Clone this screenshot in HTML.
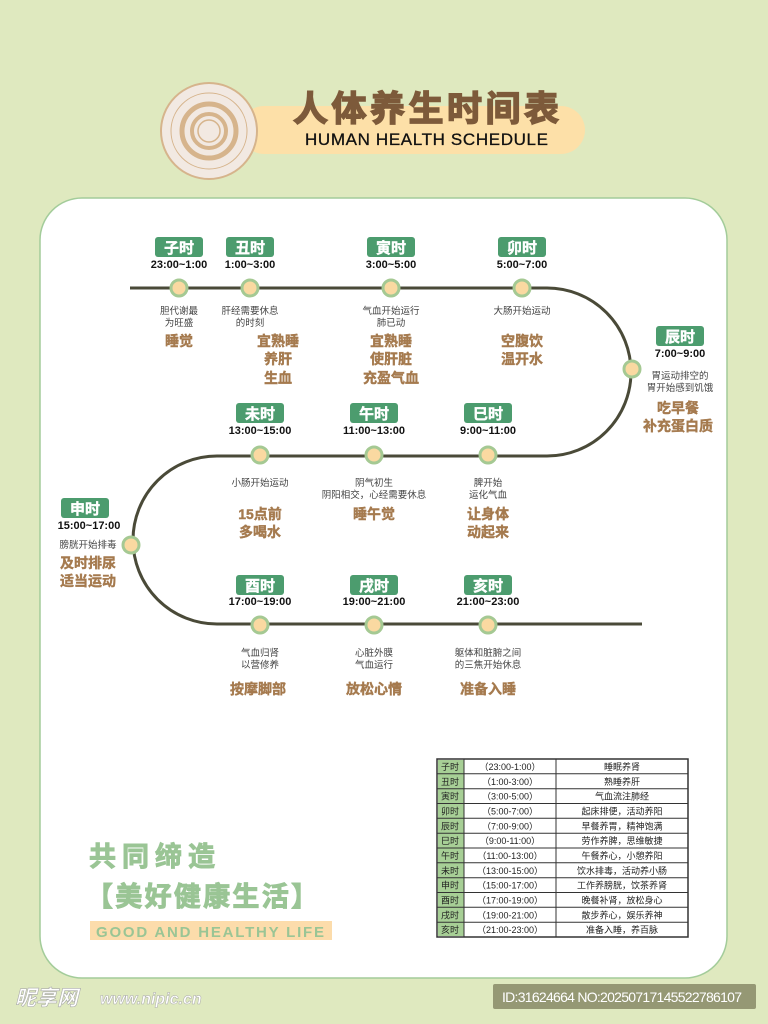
<!DOCTYPE html>
<html><head><meta charset="utf-8"><style>
html,body{margin:0;padding:0;width:768px;height:1024px;overflow:hidden;background:#dfe9bf}
svg text{font-family:"Liberation Sans","Noto Sans CJK SC",sans-serif}
.b{fill:#fff;font-weight:bold;font-size:15px;stroke:#fff;stroke-width:0.4}
.t{fill:#111;font-weight:bold;font-size:11px}
.d{fill:#444;font-size:9.5px}
.m{fill:#a57a4e;font-weight:bold;font-size:14px;stroke:#a57a4e;stroke-width:0.4}
.tb{font-size:9px;fill:#222}
</style></head><body>
<svg width="768" height="1024" viewBox="0 0 768 1024" xmlns="http://www.w3.org/2000/svg">
<rect x="0" y="0" width="768" height="1024" fill="#dfe9bf"/>
<rect x="240" y="106" width="345" height="48" rx="24" fill="#fde0a8"/>
<circle cx="209" cy="131" r="48" fill="#f2e9e2" stroke="#d6b48c" stroke-width="2"/>
<circle cx="209" cy="131" r="38" fill="none" stroke="#d6b48c" stroke-width="1"/>
<circle cx="209" cy="131" r="27" fill="none" stroke="#d6b48c" stroke-width="5"/>
<circle cx="209" cy="131" r="17" fill="none" stroke="#d6b48c" stroke-width="4"/>
<circle cx="209" cy="131" r="11" fill="none" stroke="#d6b48c" stroke-width="1.5"/>
<text x="293" y="121" font-size="35" font-weight="bold" fill="#7d5a3a" stroke="#7d5a3a" stroke-width="1.5" textLength="266">人体养生时间表</text>
<text x="305" y="145" font-size="17" fill="#111" stroke="#111" stroke-width="0.3" textLength="243">HUMAN HEALTH SCHEDULE</text>
<rect x="40" y="198" width="687" height="780" rx="42" fill="#fff" stroke="#a3cc9a" stroke-width="1.5"/>
<path d="M130 288 H547 A84 84 0 0 1 547 456 H217 A84 84 0 0 0 217 624 H642" fill="none" stroke="#4a4a38" stroke-width="3"/>
<g fill="#fad9a1" stroke="#a5c993" stroke-width="3">
<circle cx="179" cy="288" r="8"/><circle cx="250" cy="288" r="8"/><circle cx="391" cy="288" r="8"/><circle cx="522" cy="288" r="8"/>
<circle cx="632" cy="369" r="8"/>
<circle cx="260" cy="455" r="8"/><circle cx="374" cy="455" r="8"/><circle cx="488" cy="455" r="8"/>
<circle cx="131" cy="545" r="8"/>
<circle cx="260" cy="625" r="8"/><circle cx="374" cy="625" r="8"/><circle cx="488" cy="625" r="8"/>
</g>
<g fill="#4c9c6e">
<rect x="155" y="237" width="48" height="20" rx="3"/><rect x="226" y="237" width="48" height="20" rx="3"/><rect x="367" y="237" width="48" height="20" rx="3"/><rect x="498" y="237" width="48" height="20" rx="3"/>
<rect x="656" y="326" width="48" height="20" rx="3"/>
<rect x="236" y="403" width="48" height="20" rx="3"/><rect x="350" y="403" width="48" height="20" rx="3"/><rect x="464" y="403" width="48" height="20" rx="3"/>
<rect x="61" y="498" width="48" height="20" rx="3"/>
<rect x="236" y="575" width="48" height="20" rx="3"/><rect x="350" y="575" width="48" height="20" rx="3"/><rect x="464" y="575" width="48" height="20" rx="3"/>
</g>
<g text-anchor="middle">
<text class="b" x="179" y="253">子时</text><text class="b" x="250" y="253">丑时</text><text class="b" x="391" y="253">寅时</text><text class="b" x="522" y="253">卯时</text>
<text class="b" x="680" y="342">辰时</text>
<text class="b" x="260" y="419">未时</text><text class="b" x="374" y="419">午时</text><text class="b" x="488" y="419">巳时</text>
<text class="b" x="85" y="514">申时</text>
<text class="b" x="260" y="591">酉时</text><text class="b" x="374" y="591">戌时</text><text class="b" x="488" y="591">亥时</text>

<text class="t" x="179" y="268">23:00~1:00</text><text class="t" x="250" y="268">1:00~3:00</text><text class="t" x="391" y="268">3:00~5:00</text><text class="t" x="522" y="268">5:00~7:00</text>
<text class="t" x="680" y="357">7:00~9:00</text>
<text class="t" x="260" y="434">13:00~15:00</text><text class="t" x="374" y="434">11:00~13:00</text><text class="t" x="488" y="434">9:00~11:00</text>
<text class="t" x="89" y="529">15:00~17:00</text>
<text class="t" x="260" y="605">17:00~19:00</text><text class="t" x="374" y="605">19:00~21:00</text><text class="t" x="488" y="605">21:00~23:00</text>

<text class="d" x="179" y="314">胆代谢最</text><text class="d" x="179" y="326">为旺盛</text>
<text class="d" x="250" y="314">肝经需要休息</text><text class="d" x="250" y="326">的时刻</text>
<text class="d" x="391" y="314">气血开始运行</text><text class="d" x="391" y="326">肺已动</text>
<text class="d" x="522" y="314">大肠开始运动</text>
<text class="d" x="680" y="379">胃运动排空的</text><text class="d" x="680" y="391">胃开始感到饥饿</text>
<text class="d" x="260" y="486">小肠开始运动</text>
<text class="d" x="374" y="486">阴气初生</text><text class="d" x="374" y="498">阴阳相交，心经需要休息</text>
<text class="d" x="488" y="486">脾开始</text><text class="d" x="488" y="498">运化气血</text>
<text class="d" x="88" y="548">膀胱开始排毒</text>
<text class="d" x="260" y="656">气血归肾</text><text class="d" x="260" y="668">以营修养</text>
<text class="d" x="374" y="656">心脏外膜</text><text class="d" x="374" y="668">气血运行</text>
<text class="d" x="488" y="656">躯体和脏腑之间</text><text class="d" x="488" y="668">的三焦开始休息</text>

<text class="m" x="179" y="346">睡觉</text>
<text class="m" x="278" y="346">宜熟睡</text><text class="m" x="278" y="364">养肝</text><text class="m" x="278" y="383">生血</text>
<text class="m" x="391" y="346">宜熟睡</text><text class="m" x="391" y="364">使肝脏</text><text class="m" x="391" y="383">充盈气血</text>
<text class="m" x="522" y="346">空腹饮</text><text class="m" x="522" y="364">温开水</text>
<text class="m" x="678" y="413">吃早餐</text><text class="m" x="678" y="431">补充蛋白质</text>
<text class="m" x="260" y="519">15点前</text><text class="m" x="260" y="537">多喝水</text>
<text class="m" x="374" y="519">睡午觉</text>
<text class="m" x="488" y="519">让身体</text><text class="m" x="488" y="537">动起来</text>
<text class="m" x="88" y="568">及时排尿</text><text class="m" x="88" y="586">适当运动</text>
<text class="m" x="258" y="694">按摩脚部</text><text class="m" x="374" y="694">放松心情</text><text class="m" x="488" y="694">准备入睡</text>
</g>
<text x="89" y="866" font-size="27" font-weight="bold" fill="#9ac595" stroke="#9ac595" stroke-width="1" textLength="126">共同缔造</text>
<text x="86" y="906" font-size="27" font-weight="bold" fill="#9ac595" stroke="#9ac595" stroke-width="1" textLength="232">【美好健康生活】</text>
<rect x="90" y="921" width="242" height="19" fill="#fcdcab"/>
<text x="96" y="937" font-size="15" font-weight="bold" fill="#9ac595" textLength="228">GOOD AND HEALTHY LIFE</text>
<g>
<rect x="437" y="759" width="251" height="178" fill="#fff" stroke="#333" stroke-width="1.5"/>
<rect x="438" y="760" width="26" height="176" fill="#a7cf96"/>
<line x1="464" y1="759" x2="464" y2="937" stroke="#333"/>
<line x1="556" y1="759" x2="556" y2="937" stroke="#333"/>
<g stroke="#333" stroke-width="1">
<line x1="437" y1="773.8" x2="688" y2="773.8"/><line x1="437" y1="788.7" x2="688" y2="788.7"/><line x1="437" y1="803.5" x2="688" y2="803.5"/><line x1="437" y1="818.3" x2="688" y2="818.3"/><line x1="437" y1="833.2" x2="688" y2="833.2"/><line x1="437" y1="848" x2="688" y2="848"/><line x1="437" y1="862.8" x2="688" y2="862.8"/><line x1="437" y1="877.7" x2="688" y2="877.7"/><line x1="437" y1="892.5" x2="688" y2="892.5"/><line x1="437" y1="907.3" x2="688" y2="907.3"/><line x1="437" y1="922.2" x2="688" y2="922.2"/>
</g>
<g class="tb" text-anchor="middle">
<text x="450" y="770">子时</text><text x="510" y="770">（23:00-1:00）</text><text x="622" y="770">睡眠养肾</text>
<text x="450" y="784.8">丑时</text><text x="510" y="784.8">（1:00-3:00）</text><text x="622" y="784.8">熟睡养肝</text>
<text x="450" y="799.7">寅时</text><text x="510" y="799.7">（3:00-5:00）</text><text x="622" y="799.7">气血流注肺经</text>
<text x="450" y="814.5">卯时</text><text x="510" y="814.5">（5:00-7:00）</text><text x="622" y="814.5">起床排便，活动养阳</text>
<text x="450" y="829.3">辰时</text><text x="510" y="829.3">（7:00-9:00）</text><text x="622" y="829.3">早餐养胃，精神饱满</text>
<text x="450" y="844.2">巳时</text><text x="510" y="844.2">（9:00-11:00）</text><text x="622" y="844.2">劳作养脾，思维敏捷</text>
<text x="450" y="859">午时</text><text x="510" y="859">（11:00-13:00）</text><text x="622" y="859">午餐养心，小憩养阳</text>
<text x="450" y="873.8">未时</text><text x="510" y="873.8">（13:00-15:00）</text><text x="622" y="873.8">饮水排毒，活动养小肠</text>
<text x="450" y="888.7">申时</text><text x="510" y="888.7">（15:00-17:00）</text><text x="622" y="888.7">工作养膀胱，饮茶养肾</text>
<text x="450" y="903.5">酉时</text><text x="510" y="903.5">（17:00-19:00）</text><text x="622" y="903.5">晚餐补肾，放松身心</text>
<text x="450" y="918.3">戌时</text><text x="510" y="918.3">（19:00-21:00）</text><text x="622" y="918.3">散步养心，娱乐养神</text>
<text x="450" y="933.2">亥时</text><text x="510" y="933.2">（21:00-23:00）</text><text x="622" y="933.2">准备入睡，养百脉</text>
</g>
</g>
<text x="15" y="1005" font-size="21" font-weight="bold" font-style="italic" fill="#fff" stroke="#aaa" stroke-width="0.6">昵享网</text>
<text x="100" y="1004" font-size="16" font-weight="bold" font-style="italic" fill="#fff" stroke="#aaa" stroke-width="0.5">www.nipic.cn</text>
<rect x="493" y="984" width="263" height="25" rx="2" fill="#959874"/>
<text x="502" y="1002" font-size="14" fill="#fff" textLength="240">ID:31624664 NO:20250717145522786107</text>
</svg>
</body></html>
